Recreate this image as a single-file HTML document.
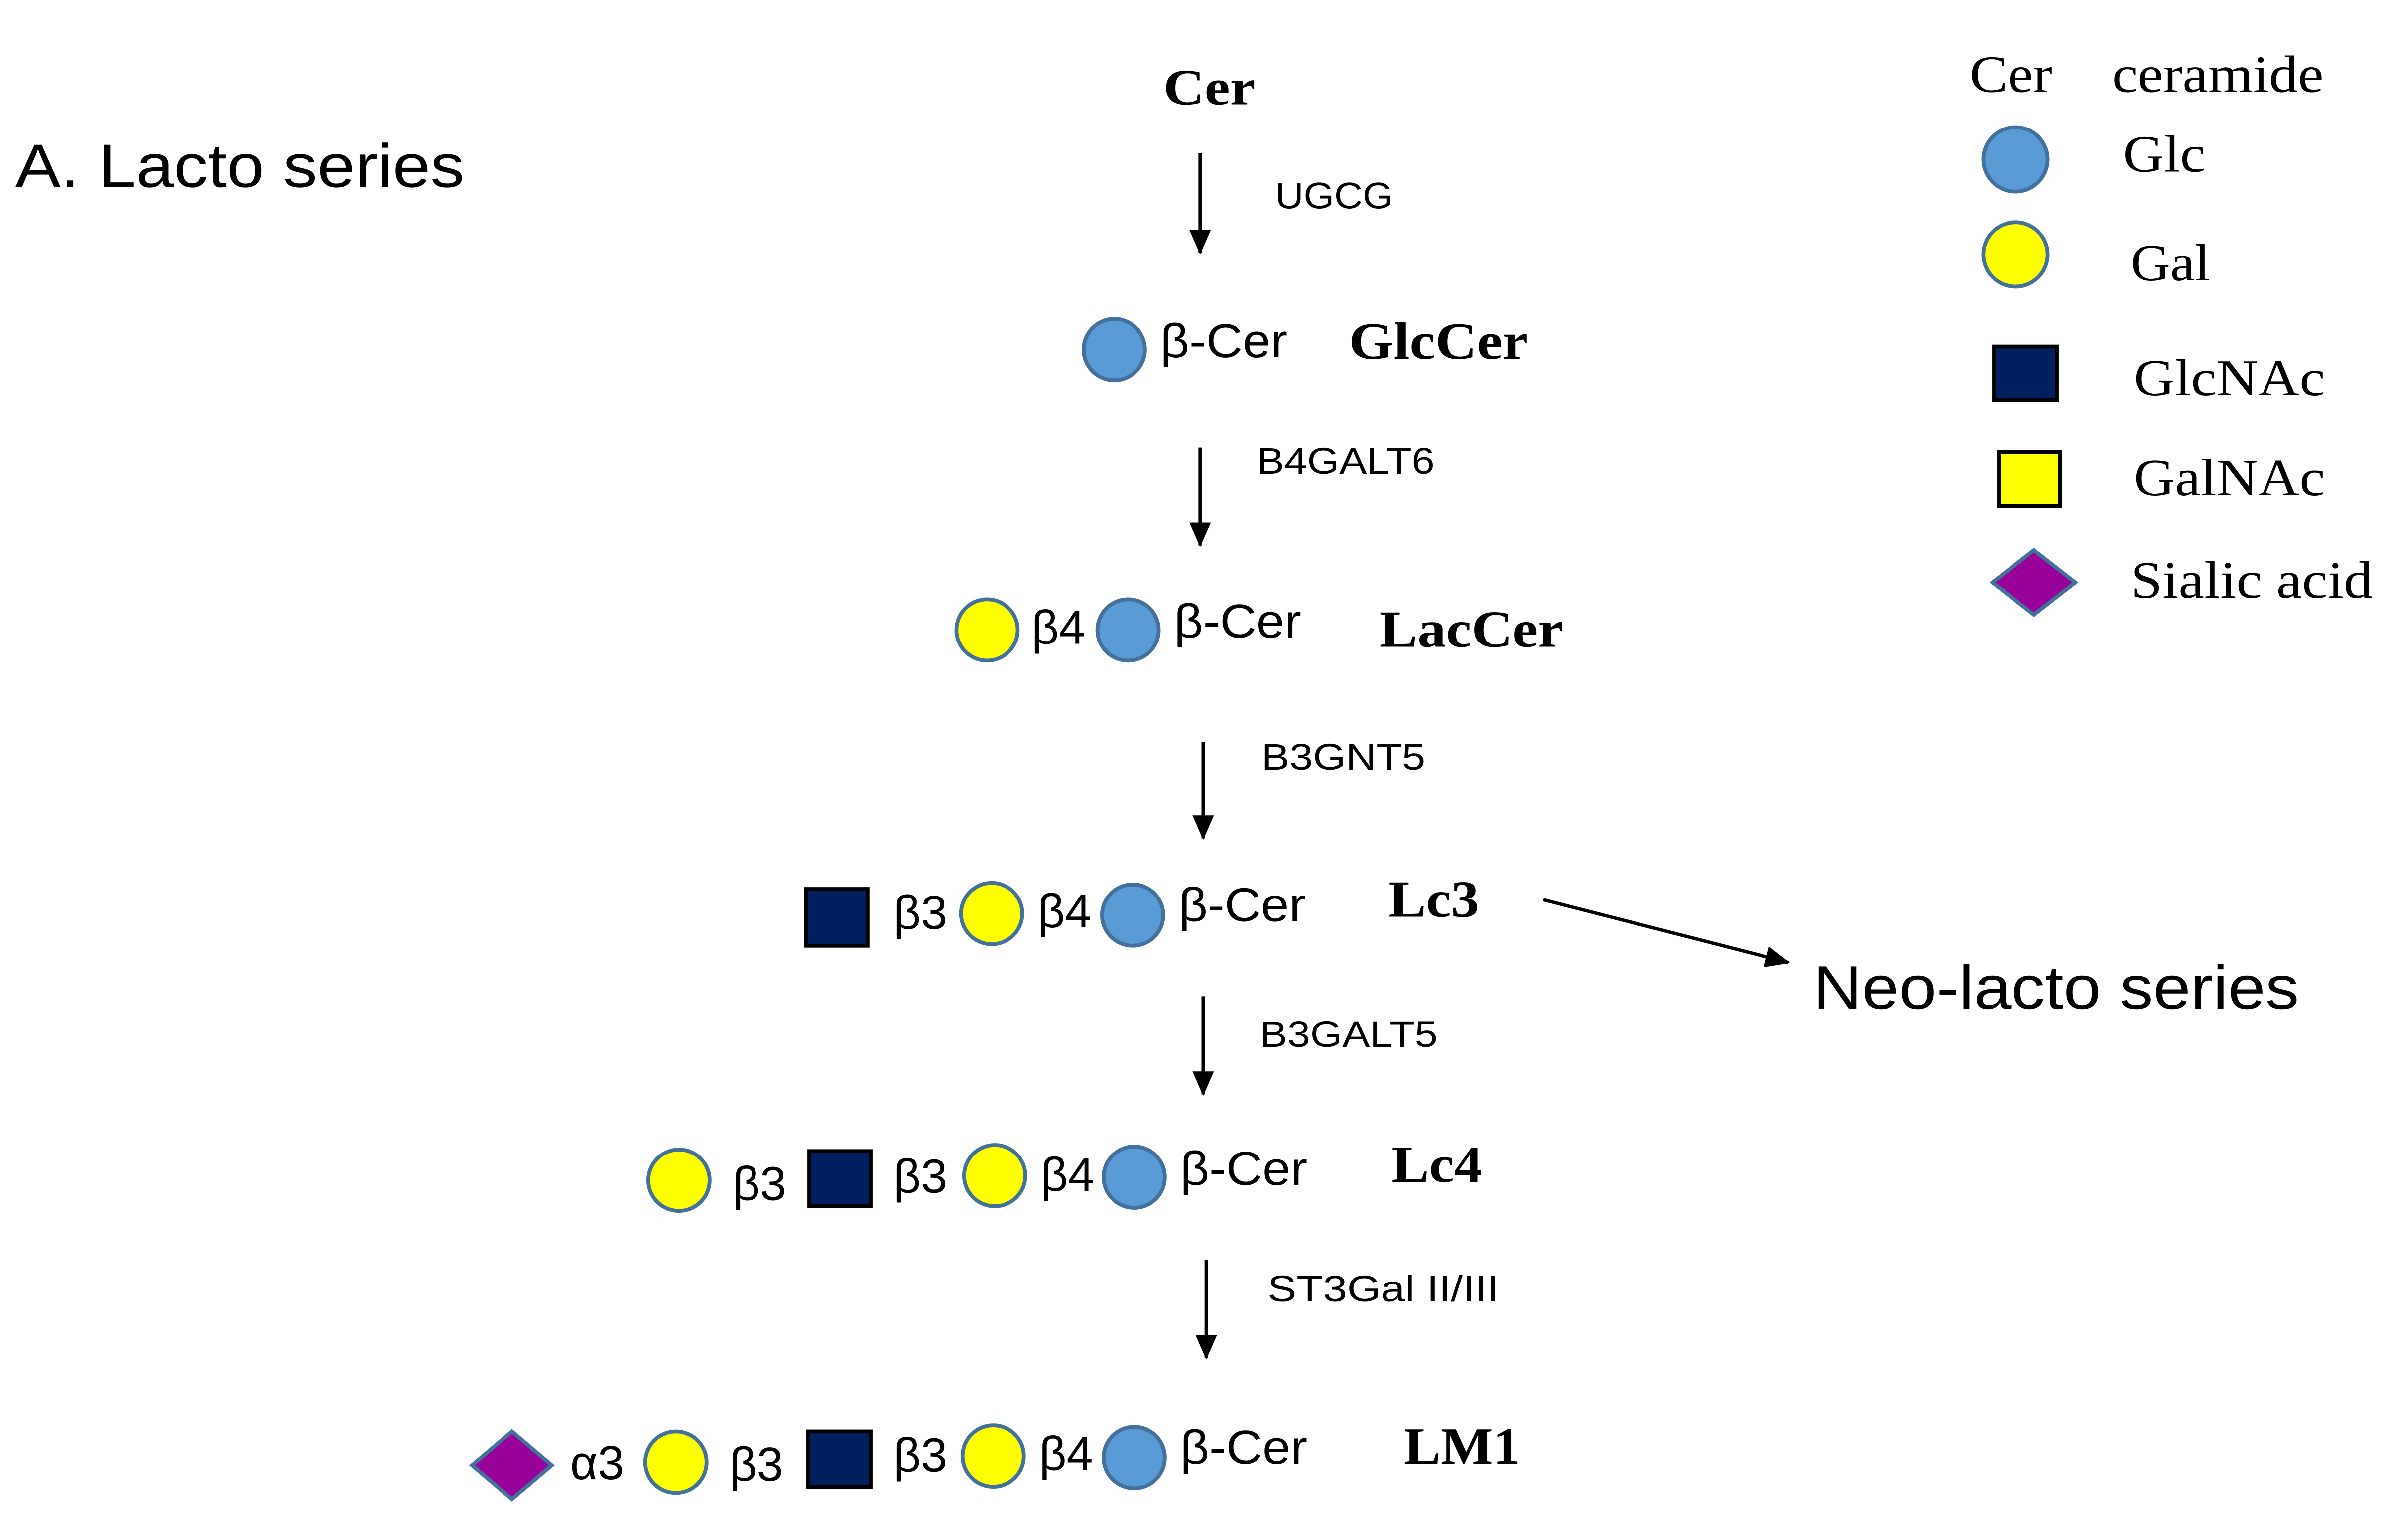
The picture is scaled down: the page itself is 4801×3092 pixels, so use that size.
<!DOCTYPE html>
<html><head><meta charset="utf-8"><style>
html,body{margin:0;padding:0;background:#fff;}
svg{display:block;}
.s{font-family:"Liberation Sans",sans-serif;}
.r{font-family:"Liberation Serif",serif;}
</style></head><body>
<svg width="4801" height="3092" viewBox="0 0 1560 1004.7" preserveAspectRatio="none" xmlns="http://www.w3.org/2000/svg">
<defs>
<marker id="ah" markerWidth="16" markerHeight="14" refX="15" refY="7" orient="auto" markerUnits="userSpaceOnUse">
<path d="M0,0 L16,7 L0,14 Z" fill="#000"/></marker>
</defs>
<g fill="#000">
<text class="s" x="10" y="122" font-size="40" textLength="293" lengthAdjust="spacingAndGlyphs">A.  Lacto series</text>
<text class="r" x="759" y="68" font-size="33" font-weight="bold" textLength="60" lengthAdjust="spacingAndGlyphs">Cer</text>

<g stroke="#000" stroke-width="2.2">
<line x1="783" y1="100" x2="783" y2="165" marker-end="url(#ah)"/>
<line x1="783" y1="292" x2="783" y2="356" marker-end="url(#ah)"/>
<line x1="785" y1="484" x2="785" y2="547" marker-end="url(#ah)"/>
<line x1="785" y1="650" x2="785" y2="714" marker-end="url(#ah)"/>
<line x1="787" y1="822" x2="787" y2="886" marker-end="url(#ah)"/>
<line x1="1007" y1="587" x2="1167" y2="628" marker-end="url(#ah)"/>
</g>
<g class="s" font-size="24">
<text x="832" y="136" textLength="77" lengthAdjust="spacingAndGlyphs">UGCG</text>
<text x="820" y="309" textLength="116" lengthAdjust="spacingAndGlyphs">B4GALT6</text>
<text x="823" y="502" textLength="107" lengthAdjust="spacingAndGlyphs">B3GNT5</text>
<text x="822" y="683" textLength="116" lengthAdjust="spacingAndGlyphs">B3GALT5</text>
<text x="827" y="849" textLength="151" lengthAdjust="spacingAndGlyphs">ST3Gal II/III</text>
</g>
<text class="s" x="1183" y="658" font-size="40" textLength="317" lengthAdjust="spacingAndGlyphs">Neo-lacto series</text>
</g>

<g stroke="#41719c" stroke-width="2.5">
<circle cx="727" cy="228" r="20" fill="#5b9bd5"/>
<circle cx="644" cy="411" r="20" fill="#ffff00"/>
<circle cx="736" cy="411" r="20" fill="#5b9bd5"/>
<circle cx="647" cy="596" r="20" fill="#ffff00"/>
<circle cx="739" cy="597" r="20" fill="#5b9bd5"/>
<circle cx="443" cy="770" r="20" fill="#ffff00"/>
<circle cx="649" cy="767" r="20" fill="#ffff00"/>
<circle cx="740" cy="768" r="20" fill="#5b9bd5"/>
<polygon points="308,956 334,934 360,956 334,978" fill="#990099"/>
<circle cx="441" cy="954" r="20" fill="#ffff00"/>
<circle cx="648" cy="950" r="20" fill="#ffff00"/>
<circle cx="740" cy="951" r="20" fill="#5b9bd5"/>
<circle cx="1315" cy="104" r="21" fill="#5b9bd5"/>
<circle cx="1315" cy="166" r="21" fill="#ffff00"/>
<polygon points="1300,380 1327,359 1354,380 1327,401" fill="#990099"/>
</g>
<g stroke="#000" stroke-width="2.5" fill="#002060">
<rect x="526" y="580" width="40" height="37"/>
<rect x="528" y="751" width="40" height="36"/>
<rect x="527" y="934" width="41" height="36"/>
<rect x="1301" y="226" width="41" height="35"/>
<rect x="1304" y="295" width="40" height="35" fill="#ffff00"/>
</g>

<g fill="#000" class="s" font-size="31">
<text x="757" y="233" textLength="83" lengthAdjust="spacingAndGlyphs">β-Cer</text>
<text x="673" y="420">β4</text><text x="766" y="416" textLength="83" lengthAdjust="spacingAndGlyphs">β-Cer</text>
<text x="583" y="606">β3</text><text x="677" y="605">β4</text><text x="769" y="601" textLength="83" lengthAdjust="spacingAndGlyphs">β-Cer</text>
<text x="478" y="783">β3</text><text x="583" y="778">β3</text><text x="679" y="777">β4</text><text x="770" y="773" textLength="83" lengthAdjust="spacingAndGlyphs">β-Cer</text>
<text x="372" y="965">α3</text><text x="476" y="966">β3</text><text x="583" y="960">β3</text><text x="678" y="959">β4</text><text x="770" y="955" textLength="83" lengthAdjust="spacingAndGlyphs">β-Cer</text>
</g>
<g fill="#000" class="r" font-size="34" font-weight="bold">
<text x="880" y="234" textLength="117" lengthAdjust="spacingAndGlyphs">GlcCer</text>
<text x="900" y="422" textLength="120" lengthAdjust="spacingAndGlyphs">LacCer</text>
<text x="906" y="598" textLength="59" lengthAdjust="spacingAndGlyphs">Lc3</text>
<text x="908" y="771" textLength="59" lengthAdjust="spacingAndGlyphs">Lc4</text>
<text x="916" y="955" textLength="76" lengthAdjust="spacingAndGlyphs">LM1</text>
</g>
<g fill="#000" class="r" font-size="34">
<text x="1285" y="60" textLength="54" lengthAdjust="spacingAndGlyphs">Cer</text>
<text x="1378" y="60" textLength="138" lengthAdjust="spacingAndGlyphs">ceramide</text>
<text x="1385" y="112" textLength="54" lengthAdjust="spacingAndGlyphs">Glc</text>
<text x="1390" y="183" textLength="52" lengthAdjust="spacingAndGlyphs">Gal</text>
<text x="1392" y="258" textLength="125" lengthAdjust="spacingAndGlyphs">GlcNAc</text>
<text x="1392" y="323" textLength="125" lengthAdjust="spacingAndGlyphs">GalNAc</text>
<text x="1390" y="390" textLength="158" lengthAdjust="spacingAndGlyphs">Sialic acid</text>
</g>
</svg>
</body></html>
